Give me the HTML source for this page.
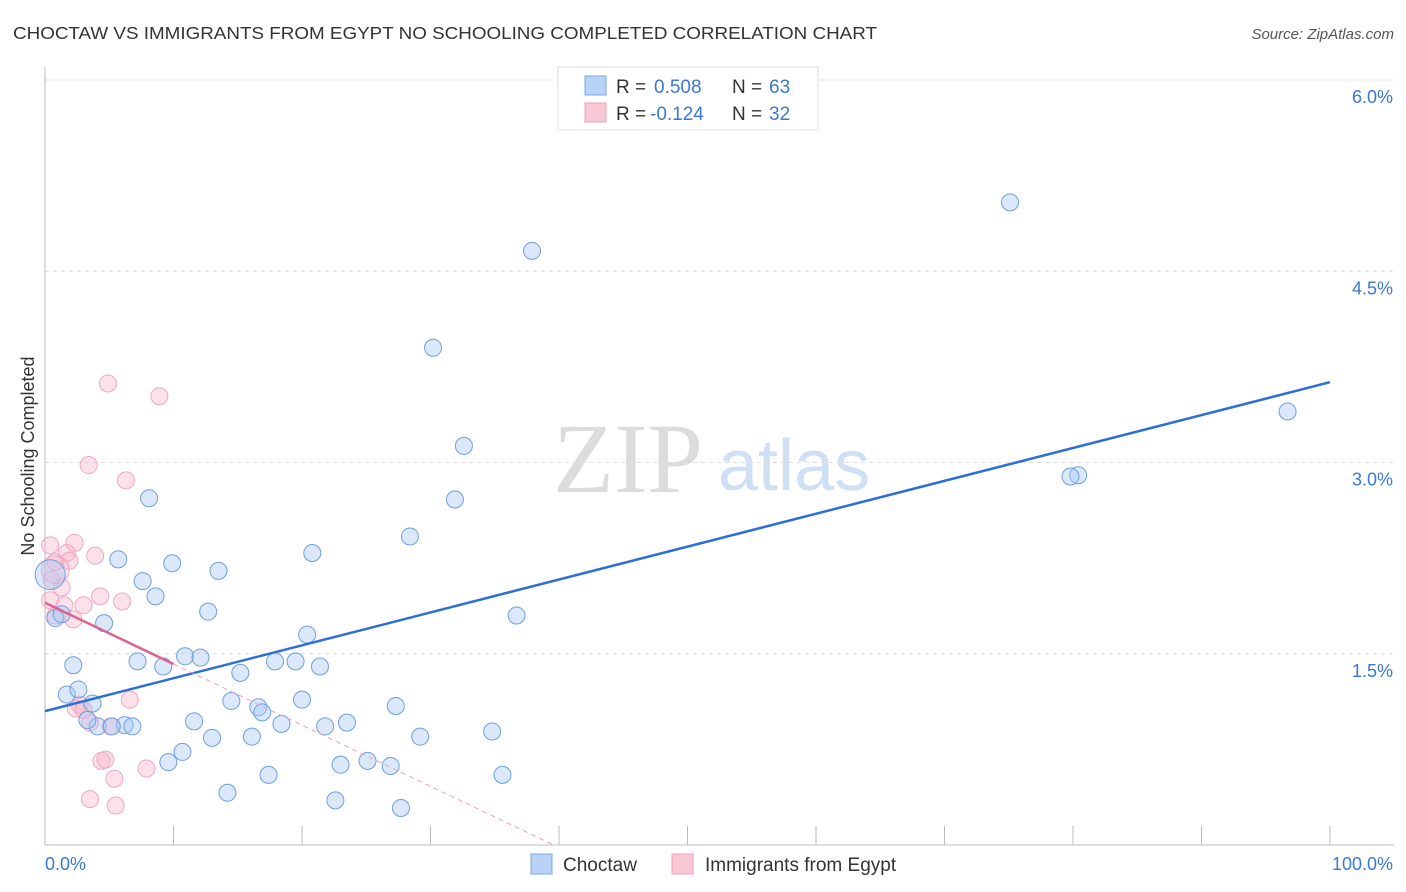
<!DOCTYPE html>
<html><head><meta charset="utf-8"><style>
body{margin:0;background:#fff;font-family:"Liberation Sans",sans-serif}
svg{display:block}
</style></head><body>
<svg id="c" width="1406" height="892">
<text x="13" y="39" font-size="17.5" fill="#333" textLength="864" lengthAdjust="spacingAndGlyphs">CHOCTAW VS IMMIGRANTS FROM EGYPT NO SCHOOLING COMPLETED CORRELATION CHART</text>
<text x="1394" y="39" font-size="15" fill="#555" font-style="italic" text-anchor="end">Source: ZipAtlas.com</text>
<g>
<text x="553" y="492" font-family="Liberation Serif,serif" font-size="100" fill="#dcdcdc">ZIP</text>
<text x="718" y="490" font-size="72" fill="#cfe0f5">atlas</text>
</g>
<text transform="translate(34,456) rotate(-90)" font-size="18" fill="#333" text-anchor="middle">No Schooling Completed</text>
<g id="grid"></g>
<g id="axes"></g>
<g id="marks"></g>
<g>
<rect x="558" y="67" width="260" height="63" fill="#fff" stroke="#ddd"/>
<rect x="585" y="76" width="21" height="19" fill="#b8d3f5" stroke="#7aa8e6"/>
<rect x="585" y="103" width="21" height="19" fill="#f9c8d6" stroke="#eea0b8"/>
<text y="93" font-size="19" fill="#333"><tspan x="616">R =</tspan><tspan x="654" fill="#3a78d8">0.508</tspan><tspan x="732">N =</tspan><tspan x="769" fill="#3a78d8">63</tspan></text>
<text y="120" font-size="19" fill="#333"><tspan x="616">R =</tspan><tspan x="650" fill="#3a78d8">-0.124</tspan><tspan x="732">N =</tspan><tspan x="769" fill="#3a78d8">32</tspan></text>
</g>
<g>
<rect x="531" y="854" width="21" height="20" fill="#b8d3f5" stroke="#7aa8e6"/>
<text x="563" y="871" font-size="19" fill="#333">Choctaw</text>
<rect x="672" y="854" width="21" height="20" fill="#f9c8d6" stroke="#eea0b8"/>
<text x="705" y="871" font-size="19" fill="#333">Immigrants from Egypt</text>
</g>
</svg>
<script>
const yTicks=[1.5,3.0,4.5,6.0];
const yTickLabels=["1.5%","3.0%","4.5%","6.0%"];
const xTickLabels=["0.0%","100.0%"];
const blueX=[75.1,37.9,30.2,32.6,96.7,80.4,79.8,8.1,31.9,28.4,20.8,5.7,9.9,13.5,7.6,8.6,12.7,36.7,0.8,1.3,4.6,20.4,7.2,2.2,10.9,12.1,9.2,15.2,17.9,19.5,21.4,1.7,2.6,3.7,14.5,20.0,16.6,16.9,27.3,11.6,18.4,21.8,23.5,4.1,6.2,6.8,5.2,3.3,13.0,16.1,29.2,34.8,10.7,9.6,23.0,25.1,26.9,17.4,35.6,14.2,22.6,27.7,0.4];
const blueY=[5.04,4.66,3.90,3.13,3.40,2.90,2.89,2.72,2.71,2.42,2.29,2.24,2.21,2.15,2.07,1.95,1.83,1.80,1.78,1.81,1.74,1.65,1.44,1.41,1.48,1.47,1.40,1.35,1.44,1.44,1.40,1.18,1.22,1.11,1.13,1.14,1.08,1.04,1.09,0.97,0.95,0.93,0.96,0.93,0.94,0.93,0.93,0.98,0.84,0.85,0.85,0.89,0.73,0.65,0.63,0.66,0.62,0.55,0.55,0.41,0.35,0.29,2.12];
const pinkX=[4.9,8.9,3.4,6.3,2.3,0.4,1.7,3.9,1.9,0.8,0.5,1.3,6.0,4.3,3.0,1.5,0.8,2.2,0.4,2.7,2.4,3.0,3.5,5.1,6.6,4.4,4.7,7.9,5.4,3.5,5.5,0.8];
const pinkY=[3.62,3.52,2.98,2.86,2.37,2.35,2.29,2.27,2.23,2.22,2.08,2.02,1.91,1.95,1.88,1.88,1.80,1.77,1.92,1.10,1.07,1.06,0.96,0.93,1.14,0.66,0.67,0.60,0.52,0.36,0.31,2.16];
const blueTrend=[1.05,3.63];
const pinkTrend=[1.90,-0.048];
const NS="http://www.w3.org/2000/svg";
const X=v=>45+v*12.85, Y=v=>845-v*127.5;
function mk(p,t,a){const e=document.createElementNS(NS,t);for(const k in a)e.setAttribute(k,a[k]);p.appendChild(e);return e;}
const grid=document.getElementById('grid'),axes=document.getElementById('axes'),marks=document.getElementById('marks');
yTicks.forEach((t,i)=>{
 const l=mk(grid,'line',{x1:45,x2:1394,y1:Y(t),y2:Y(t),stroke:'#ddd','stroke-dasharray':'4,4'});
 
 
 const tx=mk(axes,'text',{x:1393,y:Y(t)+23,'font-size':18,fill:'#3a78d8','text-anchor':'end'});
 tx.textContent=yTickLabels[i];
 
 
});
let a=mk(axes,'line',{x1:45,x2:45,y1:67,y2:845,stroke:'#bbb'});


a=mk(axes,'line',{x1:45,x2:1394,y1:845,y2:845,stroke:'#bbb'});


for(let i=1;i<=10;i++){const t=mk(axes,'line',{x1:X(i*10),x2:X(i*10),y1:826,y2:845,stroke:'#bbb'});
 
 }
let t0=mk(axes,'text',{x:45,y:870,'font-size':18,fill:'#3a78d8'});t0.textContent=xTickLabels[0];


t0=mk(axes,'text',{x:1393,y:870,'font-size':18,fill:'#3a78d8','text-anchor':'end'});t0.textContent=xTickLabels[1];


pinkX.forEach((x,i)=>{const c=mk(marks,'circle',{cx:X(x),cy:Y(pinkY[i]),r:i==pinkX.length-1?14:8.5,fill:'rgba(246,175,200,0.38)',stroke:'#f0a8bf','stroke-width':1});
 
 });
blueX.forEach((x,i)=>{const c=mk(marks,'circle',{cx:X(x),cy:Y(blueY[i]),r:i==blueX.length-1?15:8.5,fill:'rgba(168,200,242,0.42)',stroke:'#6e9fe2','stroke-width':1});
 
 });
let ln=mk(marks,'line',{x1:X(0),y1:Y(blueTrend[0]),x2:X(100),y2:Y(blueTrend[1]),stroke:'#2c6fd6','stroke-width':2.5});


const pz=-pinkTrend[0]/pinkTrend[1];
ln=mk(marks,'line',{x1:X(10),y1:Y(pinkTrend[0]+10*pinkTrend[1]),x2:X(pz),y2:Y(0),stroke:'#eea0b8','stroke-width':1,'stroke-dasharray':'5,4'});


ln=mk(marks,'line',{x1:X(0),y1:Y(pinkTrend[0]),x2:X(10),y2:Y(pinkTrend[0]+10*pinkTrend[1]),stroke:'#e0628f','stroke-width':2.5});


</script>
</body></html>
